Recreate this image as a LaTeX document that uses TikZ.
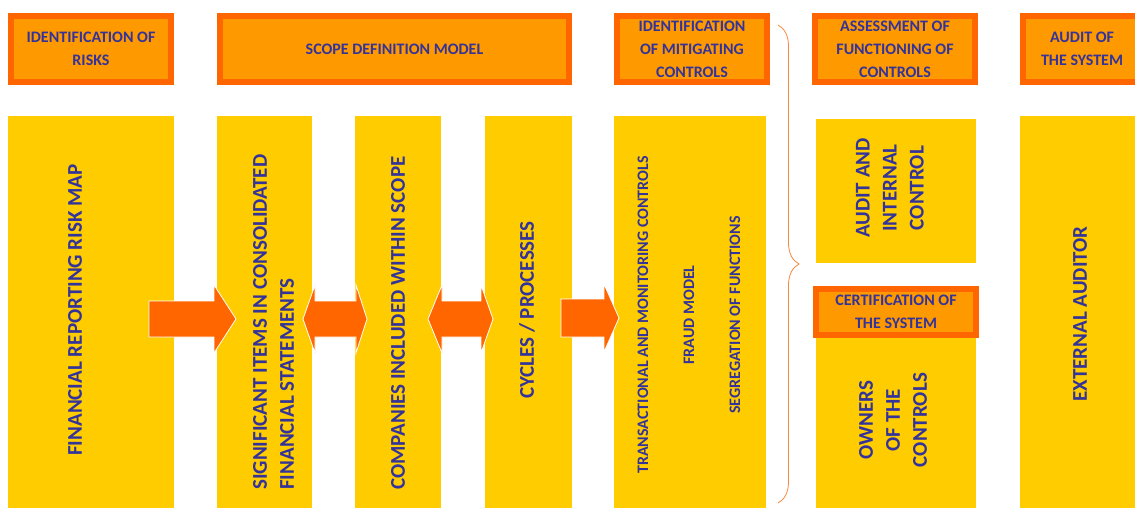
\documentclass[tikz,border=0pt]{standalone}
\usepackage{fontspec}
\setmainfont{Carlito}
\usetikzlibrary{decorations.pathreplacing}
\definecolor{hdline}{RGB}{255,102,0}
\definecolor{hdfill}{RGB}{255,153,0}
\definecolor{colfill}{RGB}{255,204,0}
\definecolor{arrowfill}{RGB}{255,102,0}
\definecolor{labeltext}{RGB}{51,51,153}
\definecolor{bracecol}{RGB}{250,135,60}
\tikzset{
  header/.style={draw=hdline, fill=hdfill, line width=6pt, inner sep=0pt, align=center,
                 text=labeltext, font=\fontsize{16}{23}\selectfont\bfseries},
  column/.style={fill=colfill, inner sep=0pt},
  vtext/.style={rotate=90, inner sep=0pt, text=labeltext, font=\fontsize{21}{27}\selectfont\bfseries},
  vsmall/.style={vtext, font=\fontsize{16}{46}\selectfont\bfseries},
  blockarrow/.style={fill=arrowfill, draw=white, line width=0.8pt},
  bracket/.style={decorate, decoration={brace, amplitude=21pt}, draw=bracecol, line width=0.8pt}
}

\begin{document}
\begin{tikzpicture}[x=1pt,y=-1pt]
      \fill[white] (0,0) rectangle (1135,508);
      \useasboundingbox (0,0) rectangle (1135,508);
      \clip (0,0) rectangle (1135,508);

      % First draw the yellow columns.
      \node[column, minimum width=166pt, minimum height=392pt] (riskmap) at (91,312) {};
      \node[column, minimum width=95pt, minimum height=392pt] (items) at (264.5,312) {};
      \node[column, minimum width=86pt, minimum height=392pt] (companies) at (398,312) {};
      \node[column, minimum width=87pt, minimum height=392pt] (cycles) at (528.5,312) {};
      \node[column, minimum width=152pt, minimum height=392pt] (controls) at (690,312) {};
      \node[column, minimum width=160pt, minimum height=144pt] (audit) at (896,191) {};
      \node[column, minimum width=160pt, minimum height=171pt] (owners) at (896,422.5) {};
      \node[column, minimum width=130pt, minimum height=392pt] (external) at (1085,312) {};

      % Now the headers on top.
      \node[header, minimum width=160pt, minimum height=66pt] (risks) at (91,49) {IDENTIFICATION OF\\RISKS};
      \node[header, minimum width=349pt, minimum height=66pt] (scope) at (394.5,49) {SCOPE DEFINITION MODEL};
      \node[header, minimum width=150pt, minimum height=66pt] (mitigating) at (692,49)
      {IDENTIFICATION\\OF MITIGATING\\CONTROLS};
      \node[header, minimum width=160pt, minimum height=66pt] (assessment) at (895,49)
      {ASSESSMENT OF\\FUNCTIONING OF\\CONTROLS};
      \node[header, minimum width=118pt, minimum height=66pt] (auditsys) at (1082,49) {AUDIT OF\\THE SYSTEM};
      \node[header, minimum width=160pt, minimum height=46pt] (certification) at (896,312)
      {CERTIFICATION OF\\THE SYSTEM};

      % Draw block arrows between the columns.
      \filldraw[blockarrow] (149,301) -- (214,301) -- (214,285) -- (236,319) -- (214,353)
      -- (214,337) -- (149,337) -- cycle;
      \filldraw[blockarrow] (303,319) -- (315,285) -- (315,301) -- (356,301) -- (356,285) -- (367,319)
      -- (356,353) -- (356,337) -- (315,337) -- (315,353) -- cycle;
      \filldraw[blockarrow] (428,319) -- (442,285) -- (442,301) -- (481,301) -- (481,285) -- (493,319)
      -- (481,353) -- (481,337) -- (442,337) -- (442,353) -- cycle;
      \filldraw[blockarrow] (561,299) -- (604,299) -- (604,284) -- (619,318) -- (604,352)
      -- (604,337) -- (561,337) -- cycle;

      % Draw the brace.
      \coordinate (bracetop) at (778,25);
      \coordinate (bracebot) at (778,503);
      \draw[bracket] (bracetop) -- (bracebot);

      % Label the columns.
      \node[vtext] (riskmaptext) at (75,310) {FINANCIAL REPORTING RISK MAP};
      \node[vtext, align=left, anchor=west] (itemstext) at (273.5,490)
      {SIGNIFICANT ITEMS IN CONSOLIDATED\\FINANCIAL STATEMENTS};
      \node[vtext, anchor=west] (companiestext) at (398,490) {COMPANIES INCLUDED WITHIN SCOPE};
      \node[vtext] (cyclestext) at (527,310) {CYCLES / PROCESSES};
      \node[vsmall, align=center] (controlstext) at (689,315)
      {TRANSACTIONAL AND MONITORING CONTROLS\\FRAUD MODEL\\SEGREGATION OF FUNCTIONS};
      \node[vtext, align=center] (audittext) at (890,188) {AUDIT AND\\INTERNAL\\CONTROL};
      \node[vtext, align=center] (ownerstext) at (893,420) {OWNERS\\OF THE\\CONTROLS};
      \node[vtext] (externaltext) at (1080,314) {EXTERNAL AUDITOR};

\end{tikzpicture}
\end{document}
